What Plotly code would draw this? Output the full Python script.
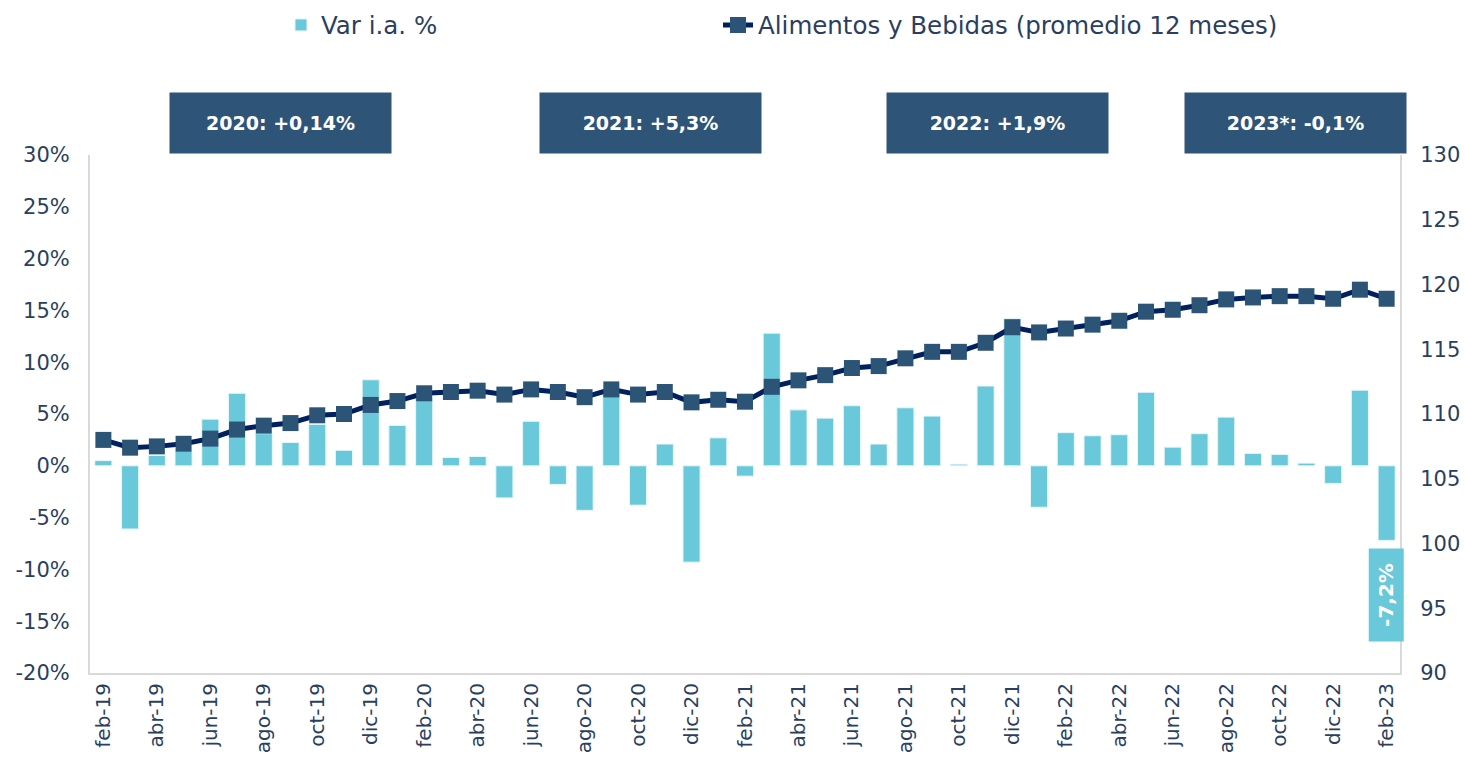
import plotly.graph_objects as go

months = ["ene", "feb", "mar", "abr", "may", "jun", "jul", "ago", "sep", "oct", "nov", "dic"]
categories = []
for yr in [19, 20, 21, 22, 23]:
    for m in months:
        categories.append(f"{m}-{yr}")
categories = categories[1:50]  # feb-19 .. feb-23

var_ia = [0.5, -6.1, 1.0, 1.4, 4.5, 7.0, 3.1, 2.25, 4.0, 1.5, 8.3, 3.9, 6.6, 0.8,
          0.9, -3.1, 4.3, -1.8, -4.3, 7.0, -3.8, 2.1, -9.3, 2.7, -1.0, 12.8, 5.4,
          4.6, 5.8, 2.1, 5.6, 4.8, 0.16, 7.7, 14.2, -4.0, 3.2, 2.9, 3.0, 7.1, 1.8,
          3.1, 4.7, 1.2, 1.1, 0.26, -1.7, 7.3, -7.2]

alimentos = [108.0, 107.4, 107.5, 107.7, 108.1, 108.8, 109.1, 109.3, 109.9, 110.0,
             110.7, 111.0, 111.6, 111.7, 111.8, 111.5, 111.9, 111.7, 111.3, 111.9,
             111.5, 111.7, 110.9, 111.1, 110.95, 112.1, 112.6, 113.0, 113.55, 113.7,
             114.3, 114.8, 114.8, 115.5, 116.7, 116.3, 116.6, 116.9, 117.2, 117.9,
             118.05, 118.4, 118.85, 119.0, 119.1, 119.1, 118.9, 119.6, 118.9]

tick_labels = categories[::2]
left_ticks = [-20, -15, -10, -5, 0, 5, 10, 15, 20, 25, 30]
right_ticks = [90, 95, 100, 105, 110, 115, 120, 125, 130]

year_labels = ["2020: +0,14%", "2021: +5,3%", "2022: +1,9%", "2023*: -0,1%"]
year_label_x = [0.1454, 0.4282, 0.6924, 0.9206]

TEXT = "#2a3f5f"
FONT = "DejaVu Sans"
BAR = "#69C8DA"
BOX = "#2E5478"

fig = go.Figure()
fig.add_trace(go.Bar(
    x=categories, y=var_ia, name="Var i.a. %",
    marker=dict(color=BAR, line=dict(color="#e8f6f9", width=1)),
    yaxis="y", legend="legend",
))
fig.add_trace(go.Scatter(
    x=categories, y=alimentos, name="Alimentos y Bebidas (promedio 12 meses)",
    mode="lines+markers",
    line=dict(color="#002060", width=5),
    marker=dict(symbol="square", size=16, color="#2C5477"),
    yaxis="y2", legend="legend2",
))

annotations = []
for txt, xc in zip(year_labels, year_label_x):
    annotations.append(dict(
        xref="paper", yref="paper", x=xc, y=1.0618, xanchor="center", yanchor="middle",
        text=f"<b>{txt}</b>", showarrow=False, bgcolor=BOX, width=221, height=60,
        borderpad=0, font=dict(family=FONT, size=19, color="white"),
    ))
last_val = var_ia[-1]
annotations.append(dict(
    xref="x", yref="y", x=categories[-1], y=last_val, xanchor="center", yanchor="top",
    yshift=-8, text=f"<b>{last_val:.1f}%</b>".replace(".", ","), showarrow=False,
    textangle=-90, bgcolor=BAR, width=92, height=34, borderpad=0,
    font=dict(family=FONT, size=20, color="white"),
))

legend_common = dict(orientation="h", y=1.251, xanchor="left", yanchor="middle",
                     font=dict(size=24.5, family=FONT, color=TEXT), bgcolor="rgba(0,0,0,0)")

fig.update_layout(
    width=1465, height=760, autosize=False,
    paper_bgcolor="white", plot_bgcolor="white",
    margin=dict(l=90, r=65, t=155, b=87, autoexpand=False),
    font=dict(family=FONT, color=TEXT),
    bargap=0.36,
    showlegend=True,
    legend=dict(x=0.1458, **legend_common),
    legend2=dict(x=0.4794, **legend_common),
    xaxis=dict(type="category", tickvals=tick_labels, ticktext=tick_labels,
               tickangle=-90, tickfont=dict(size=20), showline=True, linecolor="#d9d9d9",
               linewidth=2, ticks="", showgrid=False, automargin=False,
               range=[-0.5, len(categories) - 0.5]),
    yaxis=dict(range=[-20, 30], tickvals=left_ticks, ticktext=[f"{v}%" for v in left_ticks],
               tickfont=dict(size=21), showline=True, linecolor="#d9d9d9", linewidth=2,
               showgrid=False, zeroline=False, ticks="", ticklabelstandoff=14,
               automargin=False),
    yaxis2=dict(range=[90, 130], tickvals=right_ticks, overlaying="y", side="right",
                tickfont=dict(size=21), showline=True, linecolor="#d9d9d9", linewidth=2,
                showgrid=False, zeroline=False, ticks="", ticklabelstandoff=14,
                automargin=False),
    annotations=annotations,
)

fig.write_html("out.html", config={"displayModeBar": False},
               post_script="document.body.style.margin='0';")
